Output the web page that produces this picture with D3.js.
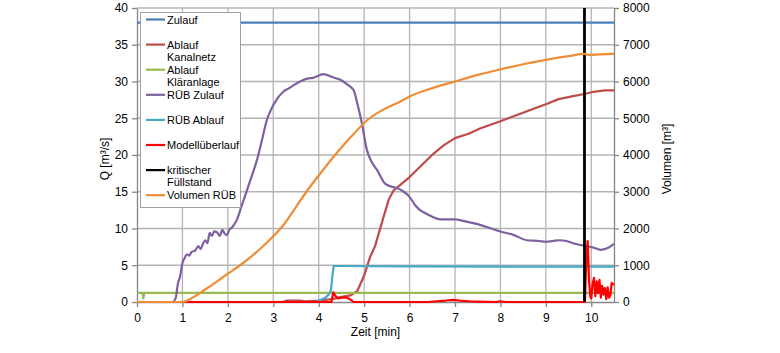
<!DOCTYPE html>
<html>
<head>
<meta charset="utf-8">
<script src="https://cdn.jsdelivr.net/npm/d3@7"></script>
<style>
  body { margin: 0; background: #fff; }
  svg { display: block; font-family: "Liberation Sans", Arial, sans-serif; }
  .tick text { font-size: 12px; fill: #000; }
</style>
</head>
<body>
<svg id="chart" width="780" height="353"></svg>
<script>
// Data: time in min, Q in m3/s, volume in m3

var xTicks = [0, 1, 2, 3, 4, 5, 6, 7, 8, 9, 10]
var qTicks = [0, 5, 10, 15, 20, 25, 30, 35, 40]
var volTicks = [0, 1000, 2000, 3000, 4000, 5000, 6000, 7000, 8000]

var zulaufT = [0, 10.5]
var zulaufQ = [38, 38]

var kanalT = [0, 3.2, 3.3, 3.6, 3.7, 4.0, 4.3, 4.5, 4.7, 4.85, 5.0, 5.13, 5.24, 5.4, 5.54, 5.65, 5.79, 6.0, 6.23, 6.53, 6.75, 7.0, 7.3, 7.55, 8.0, 8.35, 8.73, 9.0, 9.28, 9.6, 9.85, 10.05, 10.3, 10.5]
var kanalQ = [0, 0, 0.2, 0.2, 0.1, 0.2, 0.4, 0.7, 0.9, 1.5, 3.6, 6.1, 7.6, 11.0, 13.9, 15.2, 15.9, 17.0, 18.4, 20.2, 21.3, 22.3, 22.9, 23.6, 24.6, 25.4, 26.3, 26.9, 27.6, 28.0, 28.3, 28.6, 28.8, 28.8]

var klaerT = [0, 0.12, 0.14, 0.16, 0.18, 10.5]
var klaerQ = [1.25, 1.25, 0.5, 1.25, 1.25, 1.25]

var ruebZuT = [0, 0.78, 0.85, 0.9, 0.95, 1.0, 1.05, 1.1, 1.15, 1.2, 1.28, 1.35, 1.4, 1.45, 1.5, 1.55, 1.6, 1.65, 1.7, 1.76, 1.82, 1.88, 1.93, 1.98, 2.03, 2.1, 2.2, 2.3, 2.42, 2.53, 2.64, 2.75, 2.86, 2.93, 3.08, 3.22, 3.35, 3.45, 3.59, 3.75, 3.88, 4.0, 4.1, 4.18, 4.3, 4.45, 4.54, 4.65, 4.77, 4.85, 4.95, 5.06, 5.17, 5.28, 5.46, 5.6, 5.72, 5.85, 6.0, 6.12, 6.23, 6.34, 6.5, 6.67, 7.0, 7.2, 7.55, 7.8, 8.0, 8.3, 8.58, 8.85, 9.0, 9.15, 9.3, 9.45, 9.6, 9.76, 9.9, 10.05, 10.2, 10.35, 10.5]
var ruebZuQ = [0, 0, 0.5, 2.5, 3.5, 5.3, 6.0, 6.5, 6.3, 6.8, 7.0, 7.6, 7.2, 7.9, 8.4, 8.0, 9.4, 9.0, 9.6, 9.5, 9.0, 9.8, 9.3, 9.1, 9.8, 10.2, 11.2, 13.0, 15.2, 17.2, 19.3, 22.0, 24.8, 25.9, 27.6, 28.6, 29.1, 29.5, 30.0, 30.4, 30.5, 30.8, 31.0, 30.9, 30.6, 30.3, 30.0, 29.5, 28.8, 27.0, 24.3, 20.7, 19.0, 18.0, 16.1, 15.7, 15.5, 15.1, 14.3, 13.2, 12.5, 12.1, 11.6, 11.25, 11.25, 11.0, 10.5, 10.0, 9.6, 9.1, 8.4, 8.3, 8.2, 8.3, 8.4, 8.3, 8.0, 7.75, 7.6, 7.4, 7.1, 7.3, 7.9]

var ruebAbT = [0, 3.95, 4.05, 4.15, 4.22, 4.27, 4.3, 4.33, 4.4, 6.0, 10.5]
var ruebAbQ = [0, 0, 0.3, 0.6, 1.0, 1.6, 3.5, 4.9, 4.9, 4.85, 4.8]

var modellT = [0, 4.28, 4.32, 4.36, 4.42, 4.5, 4.6, 4.68, 4.73, 4.76, 6.4, 6.6, 6.8, 6.95, 7.1, 7.3, 7.5, 7.9, 8.0, 8.1, 9.86, 9.89, 9.92, 9.95, 9.98, 10.0, 10.03, 10.06, 10.09, 10.12, 10.15, 10.18, 10.21, 10.24, 10.27, 10.3, 10.33, 10.36, 10.39, 10.42, 10.45, 10.48, 10.5]
var modellQ = [0, 0, 1.3, 0.9, 0.5, 0.6, 0.6, 0.4, 0.2, 0, 0, 0.1, 0.2, 0.3, 0.2, 0.1, 0.05, 0, 0.1, 0, 0, 5.5, 8.3, 3.0, 0.7, 0.5, 2.5, 3.3, 0.8, 2.8, 1.2, 3.0, 0.6, 2.2, 1.0, 1.9, 0.4, 2.0, 0.6, 0.9, 2.6, 2.4, 2.5]

var kritT = [9.85, 9.85]
var kritQ = [0, 40]

var volT = [0, 1.0, 1.25, 1.5, 1.75, 2.0, 2.27, 2.5, 2.75, 3.0, 3.22, 3.48, 3.74, 4.05, 4.36, 4.7, 5.1, 5.4, 5.79, 6.0, 6.5, 7.0, 7.5, 8.0, 8.5, 9.0, 9.5, 9.85, 9.95, 10.2, 10.5]
var volV = [0, 0, 140, 340, 550, 770, 1000, 1220, 1490, 1790, 2090, 2550, 3020, 3520, 4000, 4480, 4980, 5220, 5450, 5590, 5820, 6000, 6180, 6330, 6470, 6590, 6690, 6750, 6720, 6740, 6750]

var names = [['Zulauf'], ['Ablauf', 'Kanalnetz'], ['Ablauf', 'Kläranlage'], ['RÜB Zulauf'], ['RÜB Ablauf'], ['Modellüberlauf'], ['kritischer', 'Füllstand'], ['Volumen RÜB']]
var colors = ['#4A7EBB', '#BE4B48', '#98B954', '#7D60A0', '#46AAC5', '#FF0000', '#000000', '#F08C35']

// Layout
var plotLeft = 137, plotRight = 614, plotTop = 8, plotBottom = 302

var svg = d3.select('#chart')

var x = d3.scaleLinear().domain([0, 10.5]).range([plotLeft, plotRight])
var yQ = d3.scaleLinear().domain([0, 40]).range([plotBottom, plotTop])
var yV = d3.scaleLinear().domain([0, 8000]).range([plotBottom, plotTop])

// Grid
var grid = svg.append('g')
grid.selectAll('.vg').data(xTicks.slice(1)).enter().append('line')
  .attr('x1', function(d){ return x(d) }).attr('x2', function(d){ return x(d) })
  .attr('y1', plotTop).attr('y2', plotBottom)
  .attr('stroke', '#B4B4B4').attr('stroke-width', 1.3)
grid.selectAll('.hg').data(qTicks.slice(1)).enter().append('line')
  .attr('x1', plotLeft).attr('x2', plotRight)
  .attr('y1', function(d){ return yQ(d) }).attr('y2', function(d){ return yQ(d) })
  .attr('stroke', '#B4B4B4').attr('stroke-width', 1.3)

// Axes
var styleAxis = function(g){
  g.selectAll('.domain').attr('stroke', '#868686').attr('stroke-width', 1.3)
  g.selectAll('.tick line').attr('stroke', '#868686').attr('stroke-width', 1.3)
}

svg.append('g').attr('transform', 'translate(0,' + plotBottom + ')')
  .call(d3.axisBottom(x).tickValues(xTicks).tickSize(5).tickSizeOuter(0).tickPadding(6))
  .call(styleAxis)

svg.append('g').attr('transform', 'translate(' + plotLeft + ',0)')
  .call(d3.axisLeft(yQ).tickValues(qTicks).tickSize(5).tickSizeOuter(0).tickPadding(4))
  .call(styleAxis)

svg.append('g').attr('transform', 'translate(' + plotRight + ',0)')
  .call(d3.axisRight(yV).tickValues(volTicks).tickFormat(d3.format('d')).tickSize(5).tickSizeOuter(0).tickPadding(4))
  .call(styleAxis)

// Axis titles
svg.append('text').attr('x', x(5.25)).attr('y', 336).attr('text-anchor', 'middle')
  .attr('font-size', 12).text('Zeit [min]')
svg.append('text').attr('transform', 'translate(109,159) rotate(-90)').attr('text-anchor', 'middle')
  .attr('font-size', 12).text('Q [m³/s]')
svg.append('text').attr('transform', 'translate(671,159) rotate(-90)').attr('text-anchor', 'middle')
  .attr('font-size', 12).text('Volumen [m³]')

// Series
svg.append('clipPath').attr('id', 'plot').append('rect')
  .attr('x', plotLeft).attr('y', plotTop - 2).attr('width', plotRight - plotLeft + 1).attr('height', plotBottom - plotTop + 3)

var plot = svg.append('g').attr('clip-path', 'url(#plot)')

var draw = function(ts, vs, yScale, color, width, curve){
  var pts = ts.map(function(t, i){ return [t, vs[i]] })
  var line = d3.line().curve(curve || d3.curveLinear)
    .x(function(d){ return x(d[0]) }).y(function(d){ return yScale(d[1]) })
  plot.append('path').datum(pts)
    .attr('d', line)
    .attr('fill', 'none')
    .attr('stroke', color)
    .attr('stroke-width', width)
    .attr('stroke-linejoin', 'round')
}

draw(zulaufT, zulaufQ, yQ, colors[0], 2.2)
draw(kanalT, kanalQ, yQ, colors[1], 2.2)
draw(klaerT, klaerQ, yQ, colors[2], 2.2)
draw(ruebZuT, ruebZuQ, yQ, colors[3], 2.2, d3.curveMonotoneX)
draw(ruebAbT, ruebAbQ, yQ, colors[4], 2.2)
draw(modellT, modellQ, yQ, colors[5], 2.2)
draw(kritT, kritQ, yQ, colors[6], 2.8)
draw(volT, volV, yV, colors[7], 2.2, d3.curveMonotoneX)

// Legend
var legend = svg.append('g')
legend.append('rect').attr('x', 140.5).attr('y', 12.5).attr('width', 100).attr('height', 195)
  .attr('fill', '#fff').attr('stroke', '#A0A0A0').attr('stroke-width', 1)

names.forEach(function(lines, i){
  var cy = 19.5 + i * 25.1
  legend.append('line').attr('x1', 146).attr('x2', 165).attr('y1', cy).attr('y2', cy)
    .attr('stroke', colors[i]).attr('stroke-width', 2.2)
  lines.forEach(function(txt, j){
    legend.append('text').attr('x', 167).attr('y', cy + 4 + j * 12)
      .attr('font-size', 11).text(txt)
  })
})
</script>
</body>
</html>
